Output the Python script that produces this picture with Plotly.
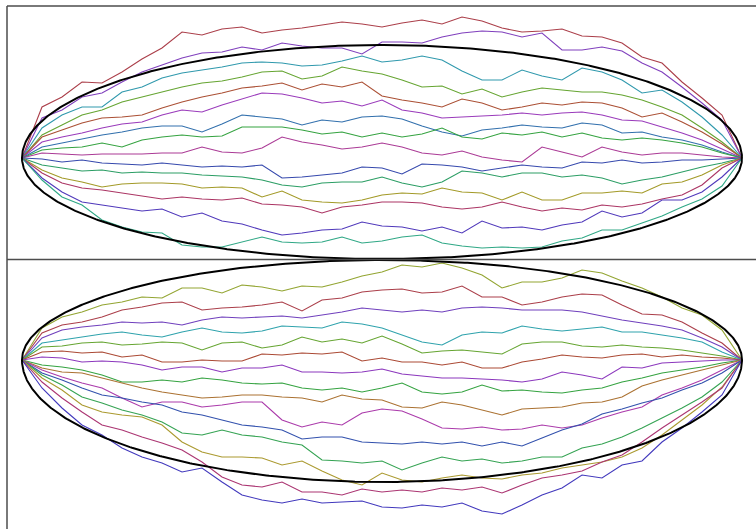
import numpy as np
import plotly.graph_objects as go

# Time grid shared by every path (fraction of the bridge interval)
t_grid = [k / 36 for k in range(37)]

# Upper panel: 15 non-intersecting bridges, heights sampled on t_grid
upper_paths = {
    "u01": [0, 51, 61, 76, 75, 86, 99, 110, 126, 123, 129, 131, 125, 128, 130, 133, 136, 134, 131, 135, 138, 134, 141, 137, 130, 126, 127, 129, 122, 121, 115, 101, 95, 76, 60, 43, 0],
    "u02": [0, 40, 48, 61, 65, 76, 86, 93, 100, 105, 106, 111, 108, 115, 112, 110, 110, 104, 116, 116, 115, 121, 125, 127, 126, 121, 125, 108, 108, 111, 107, 95, 86, 71, 55, 38, 0],
    "u03": [0, 30, 43, 51, 51, 66, 71, 80, 85, 88, 91, 95, 96, 95, 92, 93, 97, 102, 96, 98, 102, 98, 87, 78, 78, 88, 82, 78, 90, 86, 78, 65, 68, 56, 41, 23, 0],
    "u04": [0, 23, 33, 43, 48, 56, 61, 66, 71, 75, 77, 81, 86, 87, 79, 82, 91, 87, 84, 78, 71, 72, 64, 69, 61, 66, 70, 68, 66, 66, 63, 58, 51, 43, 30, 16, 0],
    "u05": [0, 21, 28, 35, 40, 41, 43, 50, 56, 61, 65, 70, 72, 75, 68, 74, 71, 76, 62, 58, 55, 51, 59, 55, 48, 51, 55, 53, 56, 55, 50, 41, 45, 36, 26, 14, 0],
    "u06": [0, 16, 21, 25, 30, 34, 36, 43, 48, 46, 53, 59, 65, 64, 60, 55, 57, 52, 58, 48, 45, 40, 41, 42, 43, 45, 43, 45, 46, 43, 38, 37, 31, 25, 18, 9, 0],
    "u07": [0, 11, 15, 19, 23, 26, 30, 32, 32, 26, 34, 43, 41, 39, 33, 38, 36, 41, 42, 39, 32, 26, 22, 28, 30, 33, 31, 30, 35, 33, 25, 26, 21, 18, 13, 6, 0],
    "u08": [0, 8, 10, 11, 15, 11, 18, 21, 23, 21, 22, 31, 31, 31, 28, 24, 26, 21, 25, 21, 24, 30, 21, 19, 25, 23, 26, 21, 25, 20, 18, 20, 18, 15, 11, 5, 0],
    "u09": [0, 5, 4, 3, 4, 4, 4, 5, 5, 11, 6, 5, 10, 21, 16, 13, 9, 11, 15, 11, 5, 3, 7, 1, -2, -4, 11, 6, 1, 11, 6, 3, 5, 5, 3, 1, 0],
    "u10": [0, -1, -4, -2, -5, -6, -7, -5, -7, -9, -8, -9, -7, -20, -19, -17, -15, -9, -10, -16, -6, -7, -9, -13, -10, -7, -9, -10, -4, -5, -2, -5, -4, -2, -2, -1, 0],
    "u11": [0, -7, -10, -13, -12, -15, -14, -15, -15, -17, -18, -19, -22, -27, -29, -25, -24, -24, -19, -25, -29, -24, -13, -15, -19, -15, -15, -19, -17, -20, -26, -22, -19, -14, -9, -5, 0],
    "u12": [0, -12, -20, -24, -29, -26, -25, -25, -26, -30, -29, -30, -39, -33, -42, -44, -45, -42, -37, -35, -36, -30, -34, -35, -42, -34, -42, -42, -35, -35, -33, -35, -26, -24, -17, -7, 0],
    "u13": [0, -15, -25, -30, -32, -35, -38, -41, -39, -41, -42, -40, -46, -47, -49, -55, -49, -47, -44, -44, -45, -49, -51, -49, -44, -49, -53, -50, -52, -47, -49, -46, -41, -37, -27, -10, 0],
    "u14": [0, -20, -34, -44, -47, -50, -53, -51, -59, -55, -63, -66, -72, -77, -75, -72, -71, -64, -68, -69, -73, -69, -75, -63, -70, -69, -72, -67, -64, -53, -59, -55, -42, -42, -34, -19, 0],
    "u15": [0, -22, -39, -47, -62, -69, -74, -75, -87, -89, -89, -84, -79, -84, -85, -84, -79, -85, -83, -79, -77, -85, -88, -90, -89, -90, -89, -83, -80, -72, -72, -65, -58, -49, -41, -28, 0],
}
upper_colors = ["#ab3f4a", "#8040bd", "#3099ad", "#66a532", "#ab5035", "#9a3bbb",
                "#3270ad", "#35a341", "#ab3b96", "#3649ad", "#2c9e65", "#a39a28",
                "#ab3564", "#5039bb", "#30a886"]

# Lower panel: 15 non-intersecting bridges, heights sampled on t_grid
lower_paths = {
    "l01": [0, 32, 43, 48, 55, 58, 63, 62, 72, 72, 67, 75, 73, 69, 74, 73, 78, 84, 88, 95, 93, 97, 92, 85, 72, 78, 78, 82, 90, 87, 79, 72, 63, 52, 45, 30, 0],
    "l02": [0, 27, 35, 38, 43, 50, 53, 57, 58, 50, 52, 53, 55, 58, 49, 60, 62, 68, 70, 71, 67, 68, 74, 63, 63, 55, 58, 63, 66, 65, 55, 46, 45, 38, 27, 17, 0],
    "l03": [0, 22, 30, 33, 35, 38, 37, 38, 35, 40, 43, 42, 43, 44, 42, 45, 48, 52, 50, 48, 50, 48, 52, 53, 52, 50, 50, 50, 48, 44, 40, 37, 34, 30, 22, 13, 0],
    "l04": [0, 17, 20, 23, 26, 28, 25, 23, 28, 32, 28, 27, 29, 34, 33, 32, 38, 36, 32, 25, 18, 15, 25, 28, 27, 34, 31, 29, 31, 33, 28, 28, 25, 22, 18, 8, 0],
    "l05": [0, 13, 14, 17, 18, 15, 16, 18, 17, 10, 17, 18, 12, 15, 23, 18, 21, 17, 24, 16, 7, 9, 10, 8, 6, 16, 18, 18, 14, 13, 15, 13, 12, 10, 7, 4, 0],
    "l06": [0, 8, 9, 7, 8, 3, 5, -2, -2, 0, -1, -1, 6, 5, 7, 6, 8, -1, 2, -2, -2, -5, -2, -8, -8, -2, 1, 5, 3, 2, 5, 6, 3, 5, 3, 2, 0],
    "l07": [0, 3, 2, -2, -1, -2, -5, -10, -7, -7, -12, -8, -8, -5, -12, -12, -13, -12, -9, -14, -16, -18, -18, -19, -20, -22, -19, -12, -15, -19, -7, -8, -3, -2, -1, 0, 0],
    "l08": [0, -5, -7, -10, -15, -22, -22, -20, -22, -18, -20, -23, -24, -23, -28, -30, -28, -32, -28, -23, -32, -34, -32, -25, -31, -30, -32, -33, -30, -28, -22, -18, -13, -10, -7, -3, 0],
    "l09": [0, -8, -12, -13, -18, -23, -28, -32, -35, -38, -37, -35, -35, -37, -38, -42, -35, -39, -40, -47, -48, -42, -45, -50, -55, -49, -48, -47, -43, -42, -37, -26, -20, -15, -10, -5, 0],
    "l10": [0, -10, -17, -23, -28, -38, -47, -42, -42, -47, -45, -42, -42, -60, -67, -62, -65, -53, -49, -51, -59, -68, -69, -67, -70, -69, -65, -68, -65, -58, -52, -47, -35, -28, -20, -10, 0],
    "l11": [0, -13, -20, -28, -35, -38, -42, -45, -52, -55, -60, -65, -67, -70, -79, -77, -77, -82, -83, -84, -82, -84, -82, -86, -82, -86, -78, -70, -64, -54, -49, -43, -38, -30, -23, -13, 0],
    "l12": [0, -15, -25, -37, -43, -50, -55, -62, -73, -75, -70, -75, -77, -82, -85, -100, -101, -103, -101, -110, -103, -97, -101, -99, -103, -101, -97, -97, -88, -84, -77, -68, -58, -48, -37, -22, 0],
    "l13": [0, -18, -30, -45, -52, -55, -57, -65, -82, -92, -97, -97, -98, -105, -101, -111, -120, -125, -113, -120, -122, -118, -115, -118, -119, -115, -113, -108, -105, -102, -97, -88, -75, -60, -45, -27, 0],
    "l14": [0, -22, -38, -52, -65, -70, -77, -83, -90, -102, -117, -125, -127, -122, -132, -132, -135, -129, -132, -130, -132, -128, -130, -127, -133, -125, -118, -115, -111, -102, -95, -82, -68, -55, -42, -28, 0],
    "l15": [0, -28, -48, -65, -75, -88, -97, -103, -112, -108, -122, -135, -140, -143, -139, -143, -142, -141, -147, -148, -145, -147, -143, -151, -154, -145, -135, -128, -115, -118, -105, -101, -82, -68, -52, -35, 0],
}
lower_colors = ["#93a532", "#ab3f4a", "#7040bd", "#30a3ad", "#66a532", "#ab4a35",
                "#8c38bd", "#35a341", "#ab7232", "#ab3bab", "#3251ad", "#35a353",
                "#ab9a30", "#ab3572", "#4239bd"]

# Limit-shape envelope: semi-axes of the upper and lower arcs in each panel
upper_envelope = {"above": 113, "below": 101}
lower_envelope = {"above": 100, "below": 122}

W, H = 756, 529
fig = go.Figure()


def add_panel(paths, colors, envelope, xa, ya):
    for (name, vals), col in zip(paths.items(), colors):
        fig.add_trace(go.Scatter(x=t_grid, y=vals, mode="lines", name=name,
                                 line=dict(color=col, width=1.1),
                                 xaxis=xa, yaxis=ya, hoverinfo="skip"))
    theta = np.linspace(0, np.pi, 400)
    ex = 0.5 - 0.5 * np.cos(theta)
    top = envelope["above"] * np.sin(theta)
    bottom = -envelope["below"] * np.sin(theta)
    fig.add_trace(go.Scatter(x=np.concatenate([ex, ex[::-1]]),
                             y=np.concatenate([top, bottom[::-1]]),
                             mode="lines", line=dict(color="black", width=2),
                             xaxis=xa, yaxis=ya, hoverinfo="skip"))


add_panel(upper_paths, upper_colors, upper_envelope, "x", "y")
add_panel(lower_paths, lower_colors, lower_envelope, "x2", "y2")

x_range = [-22 / 720, 734 / 720]
hidden = dict(visible=False, showgrid=False, zeroline=False, fixedrange=True)

fig.update_layout(
    width=W, height=H, autosize=False,
    margin=dict(l=0, r=0, t=0, b=0),
    paper_bgcolor="white", plot_bgcolor="white",
    showlegend=False,
    xaxis=dict(domain=[0, 1], range=x_range, anchor="y", **hidden),
    yaxis=dict(domain=[270 / H, 523 / H], range=[-101, 152], anchor="x", **hidden),
    xaxis2=dict(domain=[0, 1], range=x_range, anchor="y2", **hidden),
    yaxis2=dict(domain=[0, 270 / H], range=[-169, 101], anchor="x2", **hidden),
)

# Panel frames
frame = dict(color="#4d4d4d", width=1.5)
fig.add_shape(type="line", xref="paper", yref="paper",
              x0=7 / W, x1=1.01, y0=1 - 6 / H, y1=1 - 6 / H, line=frame)
fig.add_shape(type="line", xref="paper", yref="paper",
              x0=7 / W, x1=1.01, y0=1 - 259.5 / H, y1=1 - 259.5 / H, line=frame)
fig.add_shape(type="line", xref="paper", yref="paper",
              x0=7 / W, x1=7 / W, y0=-0.01, y1=1 - 6 / H, line=frame)

fig.write_html("out.html")
